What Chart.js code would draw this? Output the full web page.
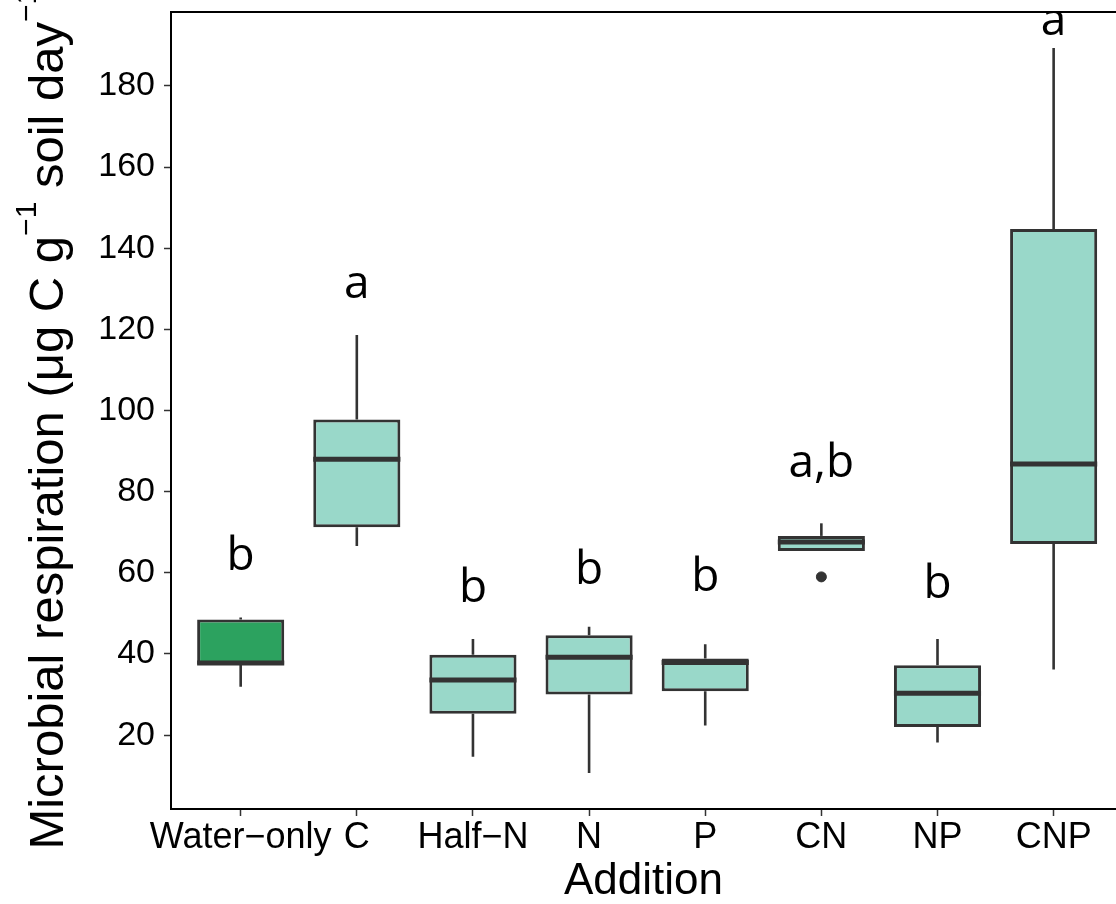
<!DOCTYPE html>
<html>
<head>
<meta charset="utf-8">
<title>Microbial respiration by addition</title>
<script src="https://cdn.jsdelivr.net/npm/chart.js@4.4.1/dist/chart.umd.min.js"></script>
<style>
  html, body { margin: 0; padding: 0; background: #fff; overflow: hidden; }
  #wrap { width: 1116px; height: 904px; }
</style>
</head>
<body>
<div id="wrap"><canvas id="respChart" width="1116" height="904"></canvas></div>
<script>
// Treatments along the x axis
const categories = ['Water\u2212only', 'C', 'Half\u2212N', 'N', 'P', 'CN', 'NP', 'CNP'];

// Box statistics per treatment (µg C g-1 soil day-1)
const whiskerLow  = [31.9, 66.6, 14.7, 10.7, 22.4, 65.4, 18.2, 36.2];
const lowerQuart  = [37.4, 71.2, 25.3, 30.0, 30.8, 65.4, 22.0, 67.1];
const medians     = [37.8, 88.0, 33.6, 39.2, 37.9, 67.6, 30.3, 86.8];
const upperQuart  = [48.5, 97.8, 39.8, 44.6, 38.9, 69.1, 37.2, 144.7];
const whiskerHigh = [49.0, 118.6, 43.7, 46.7, 42.4, 72.2, 43.7, 189.3];

// Points beyond the whiskers
const outlierGroups = ['CN'];
const outlierValues = [59.0];

// Significance letters and the height they sit at
const letters = ['b', 'a', 'b', 'b', 'b', 'a,b', 'b', 'a'];
const letterY = [60.7, 127.7, 52.9, 57.2, 55.5, 83.7, 53.7, 192.6];

const yTicks = [20, 40, 60, 80, 100, 120, 140, 160, 180];

const CONTROL_FILL = '#2ca25f';
const TREAT_FILL = '#99d8c9';
const EDGE = '#333333';

const xPos = categories.map((c, i) => i + 1);

const boxData = categories.map((c, i) => ({ x: xPos[i], y: [lowerQuart[i], upperQuart[i]] }));
const outlierData = outlierGroups.map((g, i) => ({ x: categories.indexOf(g) + 1, y: outlierValues[i] }));

// whiskers go under the boxes, medians on top
const boxplotPlugin = {
    id: 'boxplotParts',
    beforeDatasetsDraw(chart) {
        const { ctx, scales: { x, y } } = chart;
        ctx.save();
        ctx.strokeStyle = EDGE;
        ctx.lineWidth = 2.6;
        ctx.lineCap = 'butt';
        xPos.forEach((xv, i) => {
            const px = x.getPixelForValue(xv);
            ctx.beginPath();
            ctx.moveTo(px, y.getPixelForValue(upperQuart[i]));
            ctx.lineTo(px, y.getPixelForValue(whiskerHigh[i]));
            ctx.moveTo(px, y.getPixelForValue(lowerQuart[i]));
            ctx.lineTo(px, y.getPixelForValue(whiskerLow[i]));
            ctx.stroke();
        });
        ctx.restore();
    },
    afterDatasetsDraw(chart) {
        const { ctx, scales: { y } } = chart;
        const meta = chart.getDatasetMeta(0);
        ctx.save();
        ctx.strokeStyle = EDGE;
        ctx.lineWidth = 5;
        meta.data.forEach((bar, i) => {
            const half = bar.width / 2;
            const py = y.getPixelForValue(medians[i]);
            ctx.beginPath();
            ctx.moveTo(bar.x - half, py);
            ctx.lineTo(bar.x + half, py);
            ctx.stroke();
        });
        ctx.restore();
    }
};

// letters, top frame line and the y title with superscripts
const annotatePlugin = {
    id: 'annotate',
    afterDraw(chart) {
        const { ctx, chartArea, scales: { x, y } } = chart;

        ctx.save();
        ctx.beginPath();
        ctx.rect(chartArea.left, chartArea.top, chartArea.right - chartArea.left, chartArea.bottom - chartArea.top);
        ctx.clip();
        ctx.fillStyle = '#000';
        ctx.font = '46px "Open Sans"';
        ctx.textAlign = 'center';
        ctx.textBaseline = 'alphabetic';
        letters.forEach((t, i) => {
            ctx.fillText(t, x.getPixelForValue(xPos[i]), y.getPixelForValue(letterY[i]));
        });
        ctx.restore();

        ctx.save();
        ctx.strokeStyle = '#000';
        ctx.lineWidth = 2;
        ctx.beginPath();
        ctx.moveTo(chartArea.left - 1, chartArea.top);
        ctx.lineTo(chartArea.right, chartArea.top);
        ctx.stroke();
        ctx.restore();

        // y title: Microbial respiration (µg C g^-1 soil day^-1)
        const size = 49;
        const supSize = Math.round(size * 0.62);
        const parts = [
            { t: 'Microbial respiration (\u03bcg C g', sup: false },
            { t: '\u22121', sup: true },
            { t: ' soil day', sup: false },
            { t: '\u22121', sup: true },
            { t: ')', sup: false }
        ];
        ctx.save();
        ctx.fillStyle = '#000';
        ctx.textBaseline = 'alphabetic';
        ctx.textAlign = 'left';
        let total = 0;
        parts.forEach(p => {
            ctx.font = (p.sup ? supSize : size) + 'px "Liberation Sans"';
            p.w = ctx.measureText(p.t).width;
            total += p.w;
        });
        const cy = (chartArea.top + chartArea.bottom) / 2;
        ctx.translate(63, cy);
        ctx.rotate(-Math.PI / 2);
        let cx = -total / 2;
        parts.forEach(p => {
            ctx.font = (p.sup ? supSize : size) + 'px "Liberation Sans"';
            ctx.fillText(p.t, cx, p.sup ? -size * 0.55 : 0);
            cx += p.w;
        });
        ctx.restore();
    }
};

new Chart(document.getElementById('respChart'), {
    type: 'bar',
    data: {
        datasets: [{
            label: 'Respiration',
            data: boxData,
            backgroundColor: categories.map((c, i) => i === 0 ? CONTROL_FILL : TREAT_FILL),
            borderColor: EDGE,
            borderWidth: 3,
            borderSkipped: false,
            barPercentage: 0.75,
            categoryPercentage: 1.0,
            order: 2
        }, {
            type: 'scatter',
            label: 'Outliers',
            data: outlierData,
            backgroundColor: EDGE,
            borderColor: EDGE,
            pointRadius: 5,
            order: 1
        }]
    },
    options: {
        responsive: false,
        animation: false,
        layout: { autoPadding: false, padding: { top: 12, left: 0, right: 0, bottom: 0 } },
        plugins: {
            legend: { display: false },
            tooltip: { enabled: false }
        },
        scales: {
            x: {
                type: 'linear',
                offset: false,
                min: 0.4,
                max: 8.537,
                afterBuildTicks: (s) => { s.ticks = xPos.map(v => ({ value: v })); },
                afterFit: (s) => { s.height = 95; s.paddingLeft = 0; s.paddingRight = 0; },
                ticks: {
                    callback: (v) => categories[v - 1],
                    color: '#000',
                    font: { family: 'Liberation Sans', size: 36 },
                    padding: 0,
                    maxRotation: 0,
                    autoSkip: false
                },
                grid: {
                    display: true,
                    offset: false,
                    drawOnChartArea: false,
                    drawTicks: true,
                    tickLength: 7,
                    tickColor: EDGE,
                    tickWidth: 1.5
                },
                border: { display: true, color: '#000', width: 2 },
                title: {
                    display: true,
                    text: 'Addition',
                    color: '#000',
                    font: { family: 'Liberation Sans', size: 44 },
                    padding: { top: 0, bottom: -4 }
                }
            },
            y: {
                min: 1.8,
                max: 198.2,
                afterBuildTicks: (s) => { s.ticks = yTicks.map(v => ({ value: v })); },
                afterFit: (s) => { s.width = 171; s.paddingTop = 0; s.paddingBottom = 0; },
                ticks: {
                    color: '#000',
                    font: { family: 'Liberation Sans', size: 34 },
                    padding: 9
                },
                grid: {
                    display: true,
                    drawOnChartArea: false,
                    drawTicks: true,
                    tickLength: 7,
                    tickColor: EDGE,
                    tickWidth: 1.5
                },
                border: { display: true, color: '#000', width: 2 }
            }
        }
    },
    plugins: [boxplotPlugin, annotatePlugin]
});
</script>
</body>
</html>
